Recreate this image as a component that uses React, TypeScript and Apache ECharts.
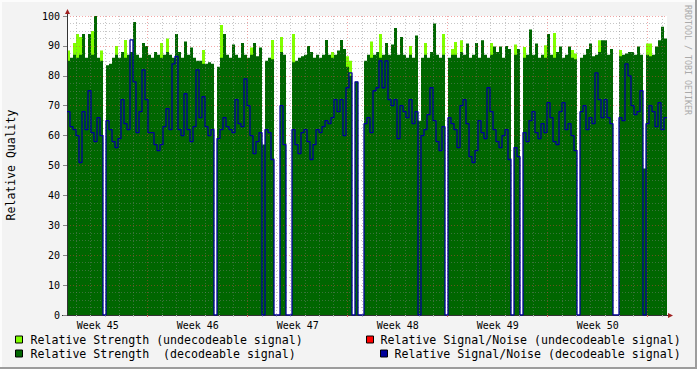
import React, { useEffect, useRef } from 'react';
import * as echarts from 'echarts';

// Time base: days since Monday of week 45. One sample = 0.21 day (~5 h).
const START_DAY = 1.35;
const STEP_DAYS = 0.21;
const END_DAY = 43.35;

// Relative Strength (decodeable signal); null = no data
const strengthDecodable: (number | null)[] = [
  85, 86, 87, 86, 87, 94, 86, 94, 87, 100, 86, 85, null, 83.5, 84, 86, 87, 86, 88, 86,
  87, 88, 98, 87, 86, 91, 90, 87, 86, 88, 87, 86, 87, 88, 87, 86, 94, 88, 86, 91.5,
  87, 89.5, 86, 85, 85, 84, 84, 84.5, 84, null, 83, 86, 94, 87, 86, 90.5, 87, 86, 91, 87,
  86, 87, 91, 86.5, 89.5, 57, 85, 86, 85.5, null, null, 88, 87, null, null, 84.5, 85, 86, 86.5, 87,
  90, 88, 86, 87, 86, 87, 92, 87, 86, 87, 88.5, 92, 89, 83, 80, null, 78, null, null, 85,
  87, 86, 87, 88, 86, 87, 91, 87, 90.5, 96, 87, 93, 87, 86, 87, 86, 93.5, 65, 86, 87,
  86, 88, 97.5, 87, 86, 87, null, 86, 87, 87, 86, 88, 87, 90.8, 86, 87, 91, 86, 91.9, 87,
  86, 87, 89.8, 88, 89.8, 86, 90, 89, null, 87, 89, null, 86, 87, 95.5, 87, 90.8, 86, 87, 86,
  94, 87, 86, 88, 89.8, 86, 87, 89.8, 86, 85.5, null, 86, 87, 89, 90.8, 86.5, 87, 88, 91.9, 91.9,
  87, 89, null, null, 86.5, 87, 87.5, 88, 88, 87, 89.8, 87, 49, 87, 86.5, 87, 89.8, 91.9, 96.4, 92.5,
];

// Relative Strength (undecodeable signal); 0 = nothing
const strengthUndecodable: number[] = [
  88.5, 0, 91, 94, 93, 0, 0, 0, 95, 0, 0, 88.5, 0, 0, 0, 0, 90, 0, 0, 92,
  0, 0, 0, 0, 0, 0, 0, 0, 0, 0, 0, 91, 0, 92.5, 0, 0, 0, 0, 0, 0,
  0, 0, 0, 0, 0, 88.6, 0, 0, 0, 0, 0, 97, 0, 0, 0, 0, 0, 0, 0, 0,
  0, 89.5, 0, 0, 0, 0, 0, 0, 92, 0, 0, 93, 0, 0, 0, 94, 0, 0, 0, 0,
  0, 0, 0, 0, 0, 0, 0, 0, 88, 0, 0, 0, 0, 86.5, 85, 0, 0, 0, 0, 0,
  0, 91.5, 0, 0, 94, 0, 0, 0, 0, 0, 0, 0, 0, 0, 90, 0, 0, 0, 0, 91,
  0, 0, 0, 0, 0, 94, 0, 0, 89, 91.3, 0, 91.9, 0, 0, 0, 0, 0, 0, 0, 0,
  0, 91, 0, 0, 0, 0, 0, 0, 0, 90.5, 0, 0, 89.6, 0, 0, 0, 0, 0, 0, 90.2,
  0, 0, 94.3, 0, 0, 0, 0, 0, 88.6, 87.5, 0, 0, 0, 0, 0, 0, 0, 91.9, 0, 0,
  0, 0, 0, 0, 88.6, 0, 0, 0, 0, 0, 0, 0, 0, 90.8, 90.8, 0, 0, 0, 0, 0,
];

// Relative Signal/Noise (decodeable signal)
const snrDecodable: number[] = [
  68, 63, 62, 60, 51, 68, 62, 75, 61, 58, 66, 60, 0, 65, 62, 58, 56, 59, 72, 64,
  62, 92, 78, 61, 68, 82, 72, 61, 61, 57, 55, 57, 63, 69, 62, 84, 86.5, 62, 60, 74,
  62, 58, 63, 82, 66, 73, 63, 60, 62, 0, 59, 62, 66, 63, 62, 61, 72, 64, 63, 79,
  70, 60, 54, 58, 61, 0, 62, 61, 52, 0, 0, 70, 57, 0, 0, 62, 57, 54, 61, 62,
  58, 52, 57, 62, 61, 63, 65, 64, 66, 72, 68, 72, 60, 76, 81, 0, 78, 0, 0, 64,
  66, 61, 75, 76, 85, 76, 85, 72, 70, 72, 59, 70, 68, 66, 72, 64, 68, 0, 60, 62,
  67, 76, 65, 58, 55, 63, 0, 66, 64, 62, 56, 70, 72, 64, 53, 51, 55, 65, 61, 59,
  76, 68, 62, 58, 56, 60, 62, 52, 0, 56, 53, 0, 61, 58, 65, 68, 61, 59, 64, 61,
  71, 66, 58, 57, 68, 71, 62, 64, 60, 55, 0, 68, 70, 62, 66, 64, 81, 72, 66, 72,
  66, 64, 0, 0, 66, 65, 84, 80, 70, 67, 68, 75, 0, 64, 70, 68, 63, 71, 62, 66,
];

// Relative Signal/Noise (undecodeable signal): nothing drawn
const snrUndecodable: number[] = [];

const weekLabels = ['Week 45', 'Week 46', 'Week 47', 'Week 48', 'Week 49', 'Week 50'];
const weekCenters = [3.5, 10.5, 17.5, 24.5, 31.5, 38.5];
const weekBounds = [7, 14, 21, 28, 35, 42];
const dayBounds: number[] = [];
for (let d = 2; d <= 43; d++) if (d % 7 !== 0) dayBounds.push(d);

const NAME_LIGHT = 'Relative Strength (undecodeable signal)';
const NAME_DARK = 'Relative Strength  (decodeable signal)';
const NAME_RED = 'Relative Signal/Noise (undecodeable signal)';
const NAME_BLUE = 'Relative Signal/Noise (decodeable signal)';

const C_LIGHT = '#80ff00';
const C_DARK = '#006600';
const C_RED = '#ff0000';
const C_BLUE = '#000099';
const MINOR = 'rgba(128,128,128,0.45)';
const MAJOR = 'rgba(230,60,60,0.45)';
const MONO = '"DejaVu Sans Mono", monospace';

function stepData(values: (number | null)[]) {
  const out: (number | null)[][] = [];
  values.forEach((v, i) => {
    const x0 = START_DAY + i * STEP_DAYS;
    const x1 = x0 + STEP_DAYS;
    if (v === null) {
      out.push([x0, null]);
      return;
    }
    out.push([x0, v], [x1, v]);
  });
  return out;
}

const legendCommon = {
  icon: 'rect',
  itemWidth: 7,
  itemHeight: 7,
  padding: 0,
  selectedMode: false,
  itemStyle: { borderColor: '#000', borderWidth: 1 },
  textStyle: { fontFamily: MONO, fontSize: 11.6, color: '#000', padding: [0, 0, 0, 3] },
};

export default function App() {
  const ref = useRef<HTMLDivElement>(null);
  useEffect(() => {
    document.body.style.margin = '0';
    const chart = echarts.init(ref.current!, null, { renderer: 'svg' });
    const option: any = {
      animation: false,
      backgroundColor: '#f3f3f3',
      grid: { left: 67, top: 16, width: 600, height: 299, show: true, backgroundColor: '#ffffff', borderWidth: 0 },
      xAxis: [
        {
          type: 'value', min: START_DAY, max: END_DAY, position: 'bottom', z: 3,
          axisLine: { show: true, onZero: false, lineStyle: { color: '#333', width: 1 } },
          axisTick: { show: true, customValues: dayBounds, length: 2, lineStyle: { color: '#bbbbbb' } },
          axisLabel: { show: false },
          splitLine: { show: true, lineStyle: { color: MINOR, type: [1, 2], width: 1 } },
        },
        {
          type: 'value', min: START_DAY, max: END_DAY, position: 'bottom', z: 3,
          axisLine: { show: false },
          axisTick: { show: true, customValues: weekBounds, length: 2, lineStyle: { color: '#e07070' } },
          axisLabel: {
            show: true, customValues: weekCenters, margin: 5,
            fontFamily: MONO, fontSize: 10, color: '#000',
            formatter: (v: number) => {
              let best = 0;
              weekCenters.forEach((c, i) => { if (Math.abs(c - v) < Math.abs(weekCenters[best] - v)) best = i; });
              return weekLabels[best];
            },
          },
          splitLine: { show: true, lineStyle: { color: MAJOR, type: [1, 2], width: 1 } },
        },
      ],
      yAxis: {
        type: 'value', min: 0, max: 100, interval: 10, z: 3,
        axisLine: { show: true, onZero: false, lineStyle: { color: '#333', width: 1 } },
        axisTick: { show: true, length: 4, lineStyle: { color: '#888' } },
        axisLabel: { fontFamily: MONO, fontSize: 10, color: '#000', margin: 7 },
        splitLine: { show: true, lineStyle: { color: MAJOR, type: [1, 2], width: 1 } },
        minorTick: { show: false, splitNumber: 4 },
        minorSplitLine: { show: true, lineStyle: { color: MINOR, type: [1, 2], width: 1 } },
      },
      legend: [
        { ...legendCommon, data: [NAME_LIGHT], left: 15, top: 333.5 },
        { ...legendCommon, data: [NAME_DARK], left: 15, top: 347.5 },
        { ...legendCommon, data: [NAME_RED], left: 366, top: 333.5, textStyle: { ...legendCommon.textStyle, padding: [0, 0, 0, 2] } },
        { ...legendCommon, data: [NAME_BLUE], left: 380, top: 347.5, textStyle: { ...legendCommon.textStyle, padding: [0, 0, 0, 2] } },
      ],
      series: [
        {
          name: NAME_LIGHT, type: 'line', xAxisIndex: 0, yAxisIndex: 0, z: 2,
          data: stepData(strengthUndecodable), showSymbol: false, symbol: 'none', silent: true,
          color: C_LIGHT, itemStyle: { color: C_LIGHT },
          lineStyle: { width: 0 }, areaStyle: { color: C_LIGHT, opacity: 1 },
        },
        {
          name: NAME_DARK, type: 'line', xAxisIndex: 0, yAxisIndex: 0, z: 2,
          data: stepData(strengthDecodable), showSymbol: false, symbol: 'none', silent: true,
          color: C_DARK, itemStyle: { color: C_DARK },
          lineStyle: { width: 0 }, areaStyle: { color: C_DARK, opacity: 1 },
        },
        {
          name: NAME_RED, type: 'line', xAxisIndex: 0, yAxisIndex: 0, z: 4,
          data: stepData(snrUndecodable), showSymbol: false, symbol: 'none', silent: true,
          color: C_RED, itemStyle: { color: C_RED }, lineStyle: { width: 1.5, color: C_RED },
        },
        {
          name: NAME_BLUE, type: 'line', xAxisIndex: 0, yAxisIndex: 0, z: 4,
          data: stepData(snrDecodable), showSymbol: false, symbol: 'none', silent: true,
          color: C_BLUE, itemStyle: { color: C_BLUE }, lineStyle: { width: 1.3, color: C_BLUE },
        },
      ],
      graphic: [
        { type: 'rect', silent: true, shape: { x: 0, y: 0, width: 697, height: 2 }, style: { fill: '#fcfcfc' } },
        { type: 'rect', silent: true, shape: { x: 0, y: 0, width: 2, height: 369 }, style: { fill: '#fcfcfc' } },
        { type: 'rect', silent: true, shape: { x: 0, y: 367, width: 697, height: 2 }, style: { fill: '#9c9c9c' } },
        { type: 'rect', silent: true, shape: { x: 695, y: 0, width: 2, height: 369 }, style: { fill: '#9c9c9c' } },
        {
          type: 'text', silent: true, x: 11, y: 165, rotation: Math.PI / 2,
          style: { text: 'Relative Quality', font: '11.5px "DejaVu Sans Mono"', fill: '#000', textAlign: 'center', textVerticalAlign: 'middle' },
        },
        {
          type: 'text', silent: true, x: 688, y: 5, rotation: -Math.PI / 2,
          style: { text: 'RRDTOOL / TOBI OETIKER', font: '8.3px "DejaVu Sans Mono"', fill: '#aaaaaa', textAlign: 'left', textVerticalAlign: 'middle' },
        },
        { type: 'line', silent: true, shape: { x1: 67.5, y1: 16, x2: 67.5, y2: 13 }, style: { stroke: '#333', lineWidth: 1 } },
        { type: 'line', silent: true, shape: { x1: 62, y1: 315.5, x2: 67, y2: 315.5 }, style: { stroke: '#333', lineWidth: 1 } },
        { type: 'line', silent: true, shape: { x1: 667, y1: 315.5, x2: 669, y2: 315.5 }, style: { stroke: '#333', lineWidth: 1 } },
        { type: 'polygon', silent: true, shape: { points: [[65, 14], [70, 14], [67.5, 9]] }, style: { fill: '#a02020' } },
        { type: 'polygon', silent: true, shape: { points: [[668, 313], [668, 318], [673, 315.5]] }, style: { fill: '#a02020' } },
      ],
    };
    chart.setOption(option);
    return () => chart.dispose();
  }, []);
  return <div ref={ref} style={{ width: 697, height: 369 }} />;
}
